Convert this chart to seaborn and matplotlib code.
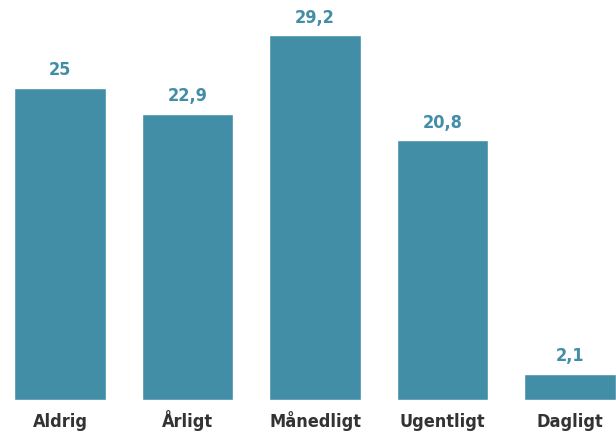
import seaborn as sb
import matplotlib.pyplot as plt
import pandas as pd

categories = ["Aldrig", "Årligt", "Månedligt", "Ugentligt", "Dagligt"]
values = [25, 22.9, 29.2, 20.8, 2.1]

bar_color = "#428ea6"
text_color = "#333333"

sb.set_style("white")
plt.rcParams['font.family'] = ['DejaVu Sans']
plt.rcParams['font.stretch'] = 'condensed'

df = pd.DataFrame({"kategori": categories, "andel": values})

fig = plt.figure(figsize=(6.16, 4.33), dpi=100)
ax = fig.add_axes([0, 33 / 433, 1, 400 / 433])
sb.barplot(data=df, x="kategori", y="andel", color=bar_color,
           saturation=1, width=0.72, ax=ax)

labels = [f"{v:g}".replace(".", ",") for v in values]
ax.bar_label(ax.containers[0], labels=labels, padding=6, fontsize=13,
             fontweight="bold", color=bar_color, fontstretch="condensed")

ax.set_xlim(-0.47, 4.36)
ax.set_ylim(0, 32)
ax.set_yticks([])
ax.set_xlabel("")
ax.set_ylabel("")
ax.tick_params(axis="x", length=0, pad=19.5, labelsize=13, labelcolor=text_color)
for t in ax.get_xticklabels():
    t.set_fontweight("bold")
    t.set_fontstretch("condensed")
    t.set_verticalalignment("baseline")
sb.despine(ax=ax, left=True, bottom=True)

fig.savefig("out.png", dpi=100)
